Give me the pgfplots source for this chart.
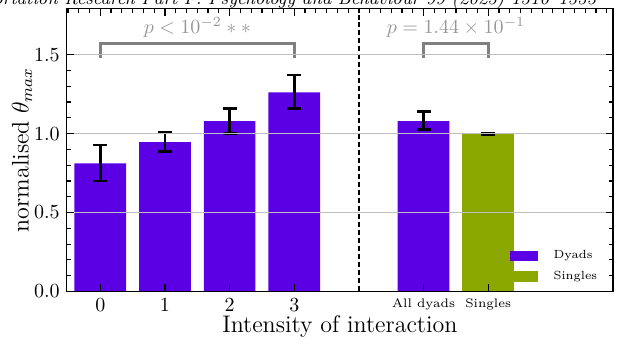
\documentclass[border=0pt]{standalone}
\usepackage{pgfplots}
\pgfplotsset{compat=1.18}
\definecolor{dyad}{RGB}{91,0,229}
\definecolor{single}{RGB}{138,168,0}
\definecolor{brk}{RGB}{128,128,128}
\definecolor{ptxt}{RGB}{150,150,150}
\newcommand{\smallfont}{\fontsize{6.2}{7.4}\selectfont}
\newcommand{\legfont}{\fontsize{5.9}{7}\selectfont}
\begin{document}
\begin{tikzpicture}
\begin{axis}[
  scale only axis, width=273.2pt, height=141.5pt,
  xmin=-0.52, xmax=7.93, ymin=0, ymax=1.793,
  axis on top,
  ybar, bar width=0.8,
  xtick={0,1,2,3,5,6},
  xticklabels={0,1,2,3,{\smallfont All dyads},{\smallfont Singles}},
  xtick pos=both, xticklabel pos=lower,
  ytick={0,0.5,1,1.5}, minor y tick num=4,
  ytick pos=both, yticklabel pos=left,
  tick align=inside,
  major tick length=3.5pt, minor tick length=2pt,
  yticklabel style={/pgf/number format/.cd, fixed, fixed zerofill, precision=1},
  ymajorgrids, grid style={line width=0.5pt, color=black!25},
  axis line style={line width=0.6pt},
  tick style={line width=0.6pt, black},
  xlabel={Intensity of interaction}, ylabel={normalised $\theta_{max}$},
  label style={font=\large},
  x label style={at={(axis description cs:0.5,-0.1466)}, anchor=base},
  y label style={at={(axis description cs:-0.0816,0.5)}, anchor=center},
  legend style={draw=none, fill=none, at={(0.992,0.0)}, anchor=south east, font=\legfont, row sep=-0.5pt,
    nodes={inner sep=2.5pt}},
  legend cell align=left,
]
\addplot[forget plot, fill=dyad, draw=none, bar shift=0pt,
  error bars/.cd, y dir=both, y explicit,
  error bar style={line width=1.4pt, black},
  error mark options={rotate=90, mark size=3.5pt, line width=1.4pt, black}]
  coordinates {
  (0,0.812) += (0,0.116) -= (0,0.112)
  (1,0.947) += (0,0.064) -= (0,0.061)
  (2,1.079) += (0,0.078) -= (0,0.076)
  (3,1.262) += (0,0.110) -= (0,0.105)
  (5,1.079) += (0,0.060) -= (0,0.051)
  };
\addplot[forget plot, fill=single, draw=none, bar shift=0pt,
  error bars/.cd, y dir=both, y explicit,
  error bar style={line width=1.4pt, black},
  error mark options={rotate=90, mark size=3.5pt, line width=1.4pt, black}]
  coordinates {
  (6,1.0) +- (0,0.003)
  };
\addlegendimage{legend image code/.code={\fill[dyad] (0pt,-2.35pt) rectangle (13.5pt,2.35pt);}}
\addlegendentry{\hspace{5.5pt}Dyads}
\addlegendimage{legend image code/.code={\fill[single] (0pt,-2.35pt) rectangle (13.5pt,2.35pt);}}
\addlegendentry{\hspace{5.5pt}Singles}
\draw[dashed, line width=0.6pt, dash pattern=on 2.5pt off 1.5pt] (axis cs:4,0) -- (axis cs:4,1.793);
\draw[brk, line width=1.5pt] (axis cs:0,1.48) -- (axis cs:0,1.573) -- (axis cs:3,1.573) -- (axis cs:3,1.48);
\draw[brk, line width=1.5pt] (axis cs:5,1.48) -- (axis cs:5,1.573) -- (axis cs:6,1.573) -- (axis cs:6,1.48);
\node[ptxt, anchor=base, inner sep=0pt] at (axis cs:1.5,1.635) {$p<10^{-2}**$};
\node[ptxt, anchor=base, inner sep=0pt] at (axis cs:5.5,1.635) {$p=1.44\times10^{-1}$};
\coordinate (SW) at (rel axis cs:0,0);
\coordinate (NE) at (rel axis cs:1,1);
\coordinate (HD) at (rel axis cs:0,1);
\end{axis}
\begin{axis}[
  scale only axis, width=273.2pt, height=141.5pt,
  xmin=-0.52, xmax=7.93, ymin=0, ymax=1.793,
  axis line style={draw=none},
  xtick={-0.5,-0.33333,...,7.9}, xticklabels={}, ytick=\empty,
  xtick pos=right, tick align=inside,
  major tick length=2pt, tick style={line width=0.6pt, black},
]
\end{axis}
\node[anchor=base east, inner sep=0pt, font=\small\itshape] at ([xshift=265pt,yshift=2.25pt]HD) {Transportation Research Part F: Psychology and Behaviour 99 (2023) 1316--1333};
\pgfresetboundingbox
\path[use as bounding box] ([xshift=-33.35pt,yshift=-26.25pt]SW) rectangle ([xshift=4.5pt,yshift=4.25pt]NE);
\end{tikzpicture}
\end{document}
